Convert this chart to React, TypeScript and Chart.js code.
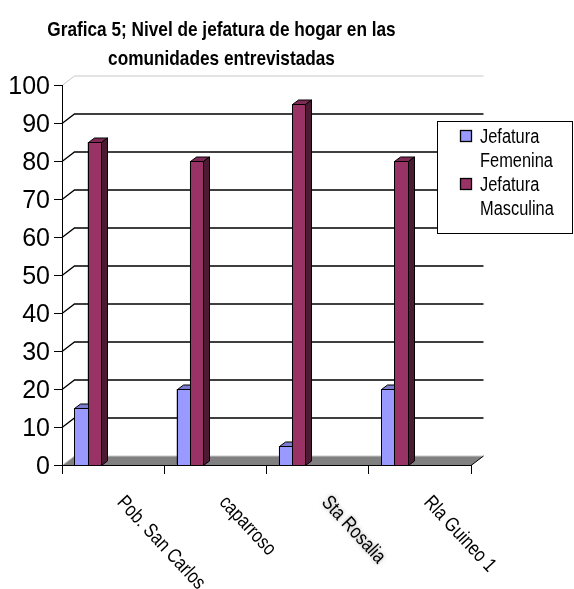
import React, { useEffect, useRef } from "react";
import { Chart, registerables } from "chart.js";

Chart.register(...registerables);

// ---- data ----
const titleLines = ["Grafica 5; Nivel de jefatura de hogar en las", "comunidades entrevistadas"];
const categories = ["Pob. San Carlos", "caparroso", "Sta Rosalia", "Rla Guineo 1"];
const femenina = [15, 20, 5, 20];
const masculina = [85, 80, 95, 80];
const seriesLabels = ["Jefatura Femenina", "Jefatura Masculina"];
const yMin = 0;
const yMax = 100;
const yStep = 10;

// ---- style ----
const femColors = { front: "#9999FF", top: "#7B7BD0", side: "#4D4D88" };
const mascColors = { front: "#993366", top: "#7D2A54", side: "#4C1A33" };
const WALL_DX = 12.5;
const WALL_DY = -9.5;
const BAR_DX = 6;
const BAR_DY = -4.5;
const NARROW = 0.82;

// hidden half-slot axis so the bar pairs sit in the left half of each category (3D perspective)
const slotLabels = categories.flatMap((c) => [c, ""]);
const padded = (arr: number[]) => arr.flatMap((v) => [v, null]);

function narrowText(ctx: CanvasRenderingContext2D, text: string, x: number, y: number, font: string, align: CanvasTextAlign, rot = 0) {
  ctx.save();
  ctx.translate(x, y);
  if (rot) ctx.rotate(rot);
  ctx.scale(NARROW, 1);
  ctx.font = font;
  ctx.fillStyle = "#000";
  ctx.textAlign = align;
  ctx.textBaseline = "alphabetic";
  ctx.fillText(text, 0, 0);
  ctx.restore();
}

const wallPlugin = {
  id: "wall3d",
  beforeDraw(chart: any) {
    const { ctx, chartArea: a, scales } = chart;
    const y = scales.y;
    ctx.save();
    const yb = Math.round(y.getPixelForValue(yMin)) + 0.5;
    // floor
    ctx.fillStyle = "#808080";
    ctx.beginPath();
    ctx.moveTo(a.left, yb);
    ctx.lineTo(a.right, yb);
    ctx.lineTo(a.right + WALL_DX, yb + WALL_DY);
    ctx.lineTo(a.left + WALL_DX, yb + WALL_DY);
    ctx.closePath();
    ctx.fill();
    // back wall grid lines + side diagonals
    for (let v = yMin; v <= yMax; v += yStep) {
      const yf = Math.round(y.getPixelForValue(v)) + 0.5;
      const yk = yf + WALL_DY;
      const light = v === yMin || v === yMax;
      ctx.strokeStyle = light ? "#c8c8c8" : "#000";
      ctx.lineWidth = light ? 1 : 1.3;
      ctx.beginPath();
      ctx.moveTo(a.left, yf);
      ctx.lineTo(a.left + WALL_DX, yk);
      ctx.lineTo(a.right + WALL_DX, yk);
      ctx.stroke();
    }
    ctx.strokeStyle = "#000";
    ctx.lineWidth = 1;
    ctx.beginPath();
    ctx.moveTo(a.right, yb);
    ctx.lineTo(a.right + WALL_DX, yb + WALL_DY);
    ctx.stroke();
    ctx.restore();
  },
  afterDatasetsDraw(chart: any) {
    const { ctx } = chart;
    const palettes = [femColors, mascColors];
    ctx.save();
    ctx.lineWidth = 1;
    ctx.strokeStyle = "#000";
    ctx.lineJoin = "miter";
    for (let i = 0; i < categories.length; i++) {
      for (let d = 0; d < 2; d++) {
        const el: any = chart.getDatasetMeta(d).data[i * 2];
        if (!el) continue;
        const p = palettes[d];
        const L = Math.round(el.x - el.width / 2) + 0.5;
        const R = Math.round(el.x + el.width / 2) + 0.5;
        const T = Math.round(el.y) + 0.5;
        const B = Math.round(el.base) + 0.5;
        // front
        ctx.fillStyle = p.front;
        ctx.fillRect(L, T, R - L, B - T);
        ctx.strokeRect(L, T, R - L, B - T);
        // top
        ctx.fillStyle = p.top;
        ctx.beginPath();
        ctx.moveTo(L, T);
        ctx.lineTo(L + BAR_DX, T + BAR_DY);
        ctx.lineTo(R + BAR_DX, T + BAR_DY);
        ctx.lineTo(R, T);
        ctx.closePath();
        ctx.fill();
        ctx.stroke();
        // side
        ctx.fillStyle = p.side;
        ctx.beginPath();
        ctx.moveTo(R, T);
        ctx.lineTo(R + BAR_DX, T + BAR_DY);
        ctx.lineTo(R + BAR_DX, B + BAR_DY);
        ctx.lineTo(R, B);
        ctx.closePath();
        ctx.fill();
        ctx.stroke();
      }
    }
    ctx.restore();
  },
  afterDraw(chart: any) {
    const { ctx, scales } = chart;
    // title
    narrowText(ctx, titleLines[0], 221.5, 35.5, 'bold 21px "Liberation Sans", Arial, sans-serif', "center");
    narrowText(ctx, titleLines[1], 221.5, 64.5, 'bold 21px "Liberation Sans", Arial, sans-serif', "center");
    // rotated category labels
    const xs = scales.x;
    categories.forEach((c, i) => {
      const px = xs.getPixelForValue(i);
      ctx.save();
      if (i === 2) {
        ctx.shadowColor = "rgba(0,0,0,0.35)";
        ctx.shadowBlur = 4;
      }
      narrowText(ctx, c, px + 3, 503, '20px "Liberation Sans", Arial, sans-serif', "left", (47 * Math.PI) / 180);
      ctx.restore();
    });
    // legend
    ctx.save();
    ctx.fillStyle = "#fff";
    ctx.fillRect(437.5, 121.5, 135, 112);
    ctx.strokeStyle = "#000";
    ctx.lineWidth = 1;
    ctx.strokeRect(437.5, 121.5, 135, 112);
    const fills = [femColors.front, mascColors.front];
    seriesLabels.forEach((lab, k) => {
      const baseY = 143 + k * 48;
      ctx.fillStyle = fills[k];
      ctx.fillRect(460.5, baseY - 12.5, 11, 11);
      ctx.strokeStyle = "#000";
      ctx.lineWidth = 1.3;
      ctx.strokeRect(460.5, baseY - 12.5, 11, 11);
      const parts = lab.split(" ");
      narrowText(ctx, parts[0], 480, baseY, '20px "Liberation Sans", Arial, sans-serif', "left");
      narrowText(ctx, parts.slice(1).join(" "), 480, baseY + 24, '20px "Liberation Sans", Arial, sans-serif', "left");
    });
    ctx.restore();
  },
};

export default function App() {
  const ref = useRef<HTMLCanvasElement>(null);
  useEffect(() => {
    if (!ref.current) return;
    const chart = new Chart(ref.current, {
      type: "bar",
      data: {
        labels: slotLabels,
        datasets: [
          {
            label: seriesLabels[0],
            data: padded(femenina),
            backgroundColor: femColors.front,
            borderColor: "#000",
            borderWidth: 1,
            xAxisID: "xb",
            categoryPercentage: 0.52,
            barPercentage: 1,
          },
          {
            label: seriesLabels[1],
            data: padded(masculina),
            backgroundColor: mascColors.front,
            borderColor: "#000",
            borderWidth: 1,
            xAxisID: "xb",
            categoryPercentage: 0.52,
            barPercentage: 1,
          },
        ],
      },
      options: {
        responsive: false,
        animation: false,
        layout: { padding: { top: 85, right: 103, left: 0, bottom: 0 } },
        plugins: { legend: { display: false }, title: { display: false }, tooltip: { enabled: false } },
        scales: {
          x: {
            type: "category",
            labels: categories,
            position: "bottom",
            offset: true,
            grid: { offset: true, drawOnChartArea: false, drawTicks: true, tickLength: 9, color: "#000", lineWidth: 1 },
            border: { display: true, color: "#000", width: 1 },
            ticks: { display: false },
            afterFit: (s: any) => {
              s.height = 124;
            },
          },
          xb: {
            type: "category",
            labels: slotLabels,
            position: "bottom",
            offset: true,
            display: false,
            grid: { offset: true },
          },
          y: {
            min: yMin,
            max: yMax,
            ticks: {
              stepSize: yStep,
              color: "#000",
              padding: 4,
              labelOffset: 2,
              font: { size: 25, family: '"Liberation Sans", Arial, sans-serif' },
            },
            grid: { drawOnChartArea: false, drawTicks: true, tickLength: 8, color: "#000", lineWidth: 1 },
            border: { display: true, color: "#000", width: 1 },
            afterFit: (s: any) => {
              s.width = 62;
            },
          },
        },
      },
      plugins: [wallPlugin],
    });
    return () => chart.destroy();
  }, []);
  return (
    <div style={{ position: "absolute", left: 0, top: 0, width: 574, height: 589, background: "#fff" }}>
      <canvas ref={ref} width={574} height={589} style={{ display: "block" }} />
    </div>
  );
}
